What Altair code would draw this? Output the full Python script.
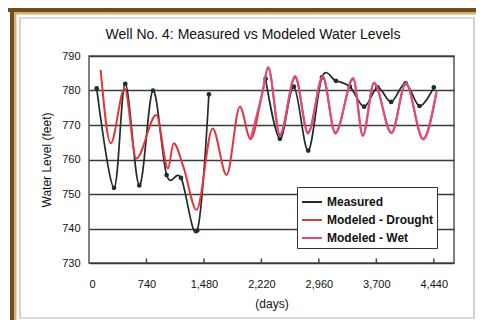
import altair as alt
import pandas as pd

# ---- data ----
title_text = "Well No. 4:  Measured vs Modeled Water Levels"
series_names = ["Measured", "Modeled - Drought", "Modeled - Wet"]
series_colors = ["#1f2d27", "#e6353a", "#dc4d7c"]

meas_days = [99, 322, 467, 648, 824, 1000, 1184, 1394, 1544,
             2274, 2458, 2638, 2823, 2999, 3179, 3359, 3543, 3716, 3891, 4076, 4256, 4440]
meas_level = [780.6, 751.8, 781.9, 752.5, 780.0, 755.5, 754.7, 739.4, 778.9,
              783.4, 766.0, 781.1, 762.6, 783.8, 782.8, 781.1, 775.3, 780.9, 776.7, 782.1, 775.5, 780.9]
meas_segment = [1] * 9 + [2] * 13

drought_days = [150, 279, 459, 609, 867, 1017, 1090, 1214, 1386, 1592, 1772, 1943, 2080,
                2230, 2308, 2458, 2655, 2820, 3010, 3172, 3402, 3526, 3670, 3895, 4080, 4302, 4475]
drought_level = [786.0, 764.7, 780.6, 760.3, 772.9, 757.4, 764.7, 758.0, 745.4, 769.0, 755.5, 775.3, 765.9,
                 779.0, 786.5, 767.0, 783.8, 767.8, 783.8, 767.8, 783.3, 767.0, 782.0, 767.8, 782.0, 766.0, 779.5]

wet_days = [2080, 2230, 2308, 2458, 2655, 2820, 3010, 3172, 3402, 3526, 3670, 3895, 4080, 4302, 4475]
wet_level = [765.9, 779.2, 786.8, 767.3, 784.2, 767.5, 784.2, 767.5, 783.6, 766.8, 782.3, 767.6, 782.2, 765.8, 779.8]

x_ticks = [0, 740, 1480, 2220, 2960, 3700, 4440]
y_ticks = [730, 740, 750, 760, 770, 780, 790]
inner_ticks = [740, 1480, 2220, 2960, 3700, 4440]

# ---- tables ----
meas = pd.DataFrame({"series": "Measured", "day": meas_days, "level": meas_level, "seg": meas_segment})
drought = pd.DataFrame({"series": "Modeled - Drought", "day": drought_days, "level": drought_level, "seg": 1})
wet = pd.DataFrame({"series": "Modeled - Wet", "day": wet_days, "level": wet_level, "seg": 1})
ticks_df = pd.DataFrame({"day": inner_ticks, "level": 730.0, "level2": 731.3})
one = pd.DataFrame({"a": [0]})

font = "Liberation Sans"
xs = alt.Scale(domain=[0, 4700], nice=False)
ys = alt.Scale(domain=[730, 790], nice=False)
cs = alt.Scale(domain=series_names, range=series_colors)

x_axis = alt.Axis(values=x_ticks, format=",d", title="(days)", grid=False, ticks=False,
                  labelPadding=15, titlePadding=9, labelOverlap=False)
y_axis = alt.Axis(values=y_ticks, title="Water Level (feet)", grid=True, ticks=False,
                  labelPadding=9, titlePadding=8, labelOverlap=False)
X = alt.X("day:Q", scale=xs, axis=x_axis)
Y = alt.Y("level:Q", scale=ys, axis=y_axis)
C = alt.Color("series:N", scale=cs,
              legend=alt.Legend(title=None, orient="none", legendX=208, legendY=131,
                                symbolType="stroke", symbolSize=400, symbolStrokeWidth=2,
                                fillColor="white", strokeColor="#333", padding=4,
                                labelFont=font, labelFontSize=12, labelFontWeight="bold",
                                labelColor="#111", rowPadding=1, labelOffset=4))

# decorative picture frame (not data)
brown_top = alt.Chart(one).mark_rule(color="#6e4c1c", strokeWidth=4).encode(
    x=alt.value(-81), x2=alt.value(387), y=alt.value(-46))
brown_left = alt.Chart(one).mark_rule(color="#6e4c1c", strokeWidth=4).encode(
    x=alt.value(-77), y=alt.value(-48), y2=alt.value(264))
gold_top = alt.Chart(one).mark_rule(color="#d2b070", strokeWidth=2.5).encode(
    x=alt.value(-75), x2=alt.value(387), y=alt.value(-42.8))
gold_left = alt.Chart(one).mark_rule(color="#d2b070", strokeWidth=2.5).encode(
    x=alt.value(-73.8), y=alt.value(-44), y2=alt.value(264))
frame_inner = alt.Chart(one).mark_rect(filled=False, stroke="#b8b8b8", strokeWidth=1.2).encode(
    x=alt.value(-69), x2=alt.value(385), y=alt.value(-38), y2=alt.value(262))

title_mark = alt.Chart(one).mark_text(font=font, fontSize=14, color="#111", align="center",
                                      baseline="middle").encode(
    x=alt.value(164), y=alt.value(-21), text=alt.value(title_text))

tick_rules = alt.Chart(ticks_df).mark_rule(color="#444", strokeWidth=1.5).encode(
    x=X, y=Y, y2="level2:Q")

meas_line = alt.Chart(meas).mark_line(interpolate="cardinal", strokeWidth=1.7).encode(
    x=X, y=Y, color=C, detail="seg:N")
meas_pts = alt.Chart(meas).mark_circle(size=22, opacity=1).encode(
    x=X, y=Y, color=alt.Color("series:N", scale=cs, legend=None))
drought_line = alt.Chart(drought).mark_line(interpolate="monotone", strokeWidth=2).encode(
    x=X, y=Y, color=C)
wet_line = alt.Chart(wet).mark_line(interpolate="monotone", strokeWidth=2).encode(
    x=X, y=Y, color=C)

chart = alt.layer(meas_line, meas_pts, drought_line, wet_line, tick_rules,
                  frame_inner, brown_top, brown_left, gold_top, gold_left, title_mark).properties(
    width=365, height=207,
    autosize=alt.AutoSizeParams(type="none"),
    padding={"left": 81, "top": 48, "right": 22, "bottom": 57},
    background="white",
).configure_view(stroke="#555", strokeWidth=1.5).configure_axis(
    domain=False, labelFont=font, labelFontSize=11, labelColor="#111",
    titleFont=font, titleFontSize=12, titleFontWeight="normal", titleColor="#111",
    gridColor="#3a3a3a", gridWidth=1.4, gridOpacity=1,
)

chart.save("out.html", embed_options={"renderer": "svg", "actions": False})
